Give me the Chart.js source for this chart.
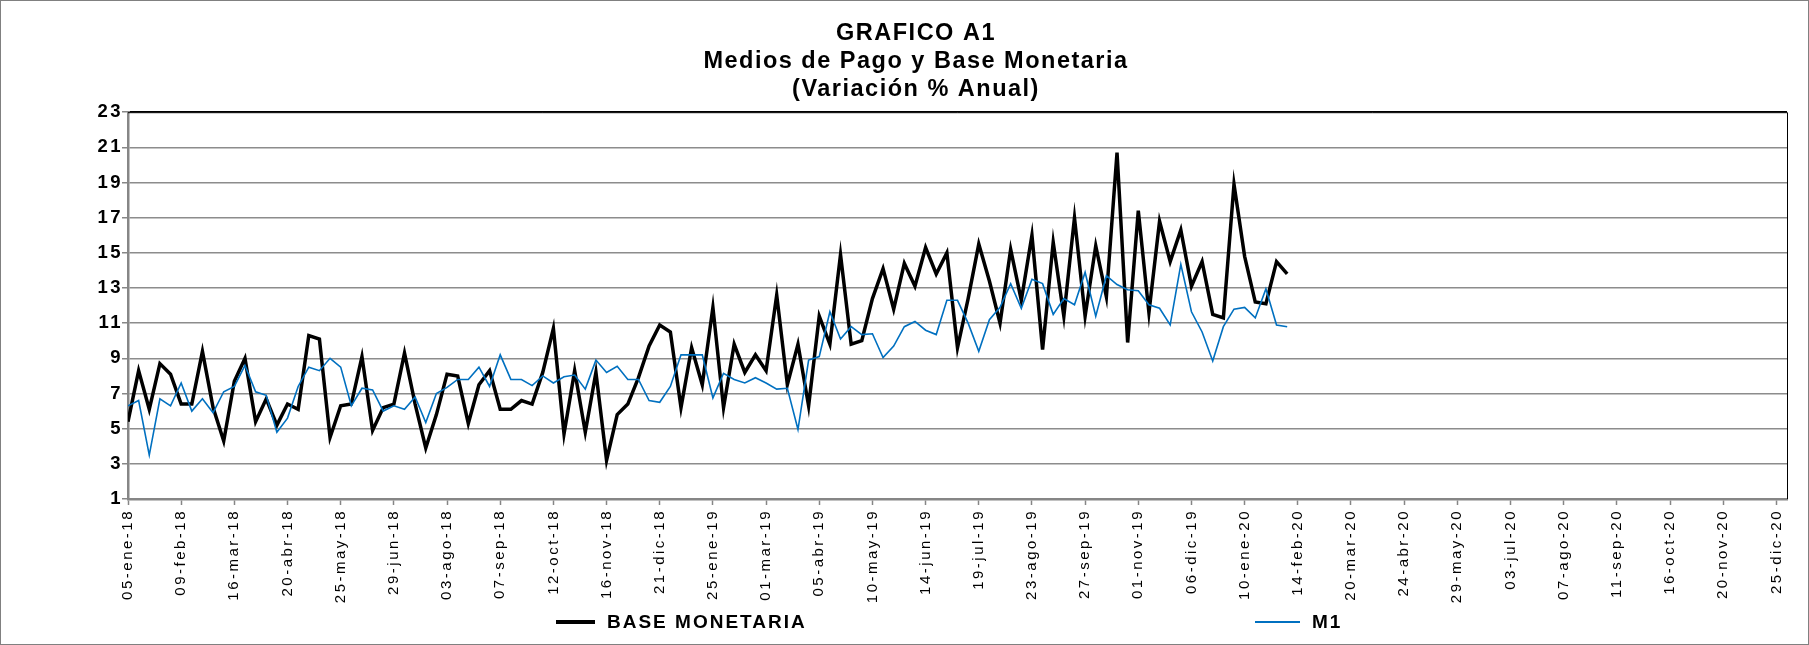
<!DOCTYPE html>
<html>
<head>
<meta charset="utf-8">
<script src="https://cdn.jsdelivr.net/npm/chart.js@4.4.0/dist/chart.umd.min.js"></script>
<style>
  body { margin: 0; background: #fff; }
  #wrap { position: relative; width: 1809px; height: 645px; box-sizing: border-box; border: 1px solid #808080; }
  #chart { display: block; }
  .legend { position: absolute; top: 608px; height: 26px; display: flex; align-items: center;
            font: bold 19px "Liberation Sans", Arial, sans-serif; letter-spacing: 2px; color: #000; }
  .legend i { display: inline-block; margin-right: 12px; }
</style>
</head>
<body>
<div id="wrap">
  <canvas id="chart" width="1807" height="643"></canvas>
  <div class="legend" style="left:555px"><i style="width:39px;height:4px;background:#000"></i>BASE MONETARIA</div>
  <div class="legend" style="left:1254px"><i style="width:45px;height:2px;background:#0070c0"></i>M1</div>
</div>
<script>
const FONT = '"Liberation Sans", Arial, sans-serif';

// one label every 5 weeks, starting 05-ene-18
const TICK_LABELS = [
  '05-ene-18', '09-feb-18', '16-mar-18', '20-abr-18', '25-may-18', '29-jun-18', '03-ago-18', '07-sep-18',
  '12-oct-18', '16-nov-18', '21-dic-18', '25-ene-19', '01-mar-19', '05-abr-19', '10-may-19', '14-jun-19',
  '19-jul-19', '23-ago-19', '27-sep-19', '01-nov-19', '06-dic-19', '10-ene-20', '14-feb-20', '20-mar-20',
  '24-abr-20', '29-may-20', '03-jul-20', '07-ago-20', '11-sep-20', '16-oct-20', '20-nov-20', '25-dic-20',
];

// weekly values, 05-ene-18 .. 07-feb-20
const BASE_MONETARIA = [
  5.4, 8.3, 6.1, 8.7, 8.1, 6.4, 6.4, 9.4, 6.2, 4.3,
  7.7, 9.0, 5.4, 6.7, 5.2, 6.4, 6.1, 10.3, 10.1, 4.5,
  6.3, 6.4, 9.1, 4.9, 6.2, 6.4, 9.3, 6.4, 3.9, 5.8,
  8.1, 8.0, 5.3, 7.5, 8.3, 6.1, 6.1, 6.6, 6.4, 8.2,
  10.7, 4.7, 8.3, 4.8, 8.2, 3.2, 5.8, 6.4, 7.9, 9.7,
  10.9, 10.5, 6.2, 9.6, 7.5, 11.9, 6.2, 9.8, 8.2, 9.2,
  8.3, 12.6, 7.5, 9.8, 6.3, 11.4, 9.8, 14.9, 9.8, 10.0,
  12.4, 14.1, 11.8, 14.4, 13.1, 15.3, 13.8, 15.0, 9.6, 12.4,
  15.5, 13.4, 11.0, 15.2, 12.3, 16.0, 9.5, 15.6, 11.4, 17.0,
  11.4, 15.4, 12.5, 20.7, 9.9, 17.4, 11.6, 16.8, 14.5, 16.3,
  13.1, 14.5, 11.5, 11.3, 18.9, 14.8, 12.2, 12.1, 14.5, 13.8,
];
const M1 = [
  6.3, 6.6, 3.5, 6.7, 6.3, 7.6, 6.0, 6.7, 5.9, 7.1,
  7.4, 8.6, 7.1, 6.9, 4.8, 5.6, 7.4, 8.5, 8.3, 9.0,
  8.5, 6.3, 7.3, 7.2, 6.0, 6.3, 6.1, 6.8, 5.35, 7.0,
  7.35, 7.8, 7.8, 8.5, 7.4, 9.2, 7.8, 7.8, 7.45, 8.0,
  7.6, 7.95, 8.05, 7.25, 8.9, 8.2, 8.55, 7.8, 7.8, 6.6,
  6.5, 7.4, 9.2, 9.2, 9.2, 6.75, 8.15, 7.8, 7.6, 7.9,
  7.6, 7.25, 7.3, 4.95, 8.9, 9.1, 11.65, 10.1, 10.8, 10.35,
  10.4, 9.05, 9.7, 10.8, 11.1, 10.6, 10.35, 12.3, 12.3, 11.0,
  9.4, 11.2, 11.9, 13.25, 11.85, 13.5, 13.25, 11.5, 12.4, 12.05,
  13.9, 11.4, 13.7, 13.2, 12.9, 12.85, 12.05, 11.85, 10.9, 14.35,
  11.65, 10.5, 8.85, 10.8, 11.8, 11.9, 11.3, 12.95, 10.9, 10.8,
];
const WEEKS = BASE_MONETARIA.map((_, i) => i);
const LAST_WEEK = TICK_LABELS.length * 5 - 4;

const SPACING = { x: '2.5px', y: '2.5px', title: '1.5px' };
const TITLE_SHIFT = 22;

function withSpacing(obj, method, spacing, dx = 0) {
  if (!obj || obj['_sp_' + method]) return;
  const orig = obj[method];
  obj[method] = function (...args) {
    const ctx = this.ctx;
    ctx.save();
    ctx.letterSpacing = spacing;
    ctx.translate(dx, 0);
    orig.apply(this, args);
    ctx.restore();
  };
  obj['_sp_' + method] = true;
}

const letterSpacing = {
  id: 'letterSpacing',
  beforeDraw(chart) {
    withSpacing(chart.scales.x, 'drawLabels', SPACING.x);
    withSpacing(chart.scales.y, 'drawLabels', SPACING.y);
    withSpacing(chart.titleBlock, 'draw', SPACING.title, TITLE_SHIFT);
  },
};

// black frame on top and right of the plot area
const plotFrame = {
  id: 'plotFrame',
  afterDraw(chart) {
    const { ctx, chartArea: a } = chart;
    ctx.save();
    ctx.strokeStyle = '#000';
    ctx.lineWidth = 1;
    ctx.beginPath();
    ctx.moveTo(a.left, a.top + 0.5);
    ctx.lineTo(a.right + 0.5, a.top + 0.5);
    ctx.lineTo(a.right + 0.5, a.bottom);
    ctx.stroke();
    ctx.restore();
  },
};

const CHART = new Chart(document.getElementById('chart'), {
  type: 'line',
  data: {
    labels: WEEKS,
    datasets: [
      {
        label: 'BASE MONETARIA',
        data: BASE_MONETARIA,
        borderColor: '#000',
        backgroundColor: '#000',
        borderWidth: 3.5,
        pointRadius: 0,
        tension: 0,
        order: 2,
      },
      {
        label: 'M1',
        data: M1,
        borderColor: '#0070c0',
        backgroundColor: '#0070c0',
        borderWidth: 1.6,
        pointRadius: 0,
        tension: 0,
        order: 1,
      },
    ],
  },
  options: {
    responsive: false,
    animation: false,
    layout: { padding: { left: 0, right: 21, top: 0, bottom: 33 } },
    plugins: {
      legend: { display: false },
      tooltip: { enabled: false },
      title: {
        display: true,
        text: ['GRAFICO A1', 'Medios de Pago y Base Monetaria', '(Variación % Anual)'],
        color: '#000',
        font: { family: FONT, size: 23.5, weight: 'bold', lineHeight: 1.18 },
        padding: { top: 19, bottom: 9 },
      },
    },
    scales: {
      x: {
        type: 'linear',
        min: 0,
        max: LAST_WEEK,
        afterFit: (scale) => { scale.height = 112; },
        grid: { drawOnChartArea: false, tickLength: 6, tickColor: '#868686', tickWidth: 1.5 },
        border: { color: '#868686', width: 2.5 },
        ticks: {
          stepSize: 5,
          includeBounds: false,
          autoSkip: false,
          minRotation: 90,
          maxRotation: 90,
          padding: 4,
          color: '#000',
          font: { family: FONT, size: 15 },
          callback: (v) => TICK_LABELS[v / 5] ?? '',
        },
      },
      y: {
        min: 1,
        max: 23,
        afterFit: (scale) => { scale.width = 127; },
        grid: {
          color: (c) => (c.tick && c.tick.value === 23 ? '#000' : '#8c8c8c'),
          lineWidth: 1.5,
          tickLength: 6,
          tickColor: '#868686',
        },
        border: { color: '#868686', width: 2.5 },
        ticks: {
          stepSize: 2,
          padding: -1,
          color: '#000',
          font: { family: FONT, size: 18.5, weight: 'bold' },
        },
      },
    },
  },
  plugins: [letterSpacing, plotFrame],
});
</script>
</body>
</html>
